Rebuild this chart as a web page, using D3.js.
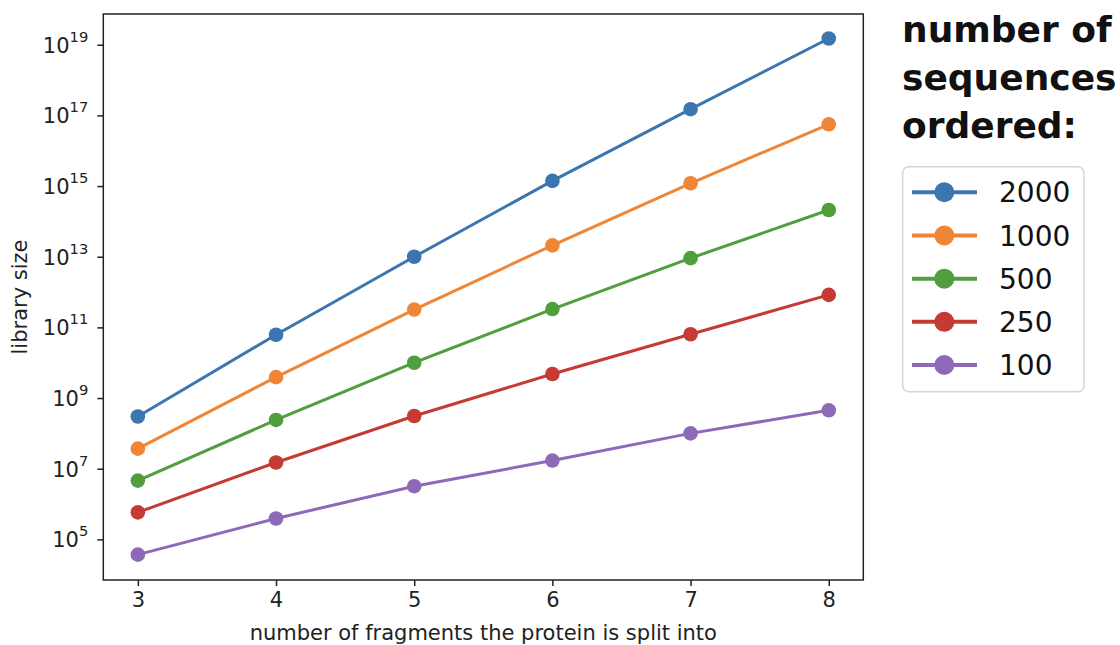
<!DOCTYPE html>
<html>
<head>
<meta charset="utf-8">
<script src="https://cdn.jsdelivr.net/npm/d3@7"></script>
<style>
  body { margin: 0; background: #fff; }
  svg { display: block; }
</style>
</head>
<body>
<div id="chart"></div>
<script>
// values (library size per number of fragments)
var fragments = [3, 4, 5, 6, 7, 8];
var seqs2000 = [3.0e8, 6.2e10, 1.0e13, 1.4e15, 1.5e17, 1.5e19];
var seqs1000 = [3.7e7, 3.9e9, 3.2e11, 2.1e13, 1.2e15, 5.6e16];
var seqs500 = [4.6e6, 2.4e8, 1.0e10, 3.3e11, 9.1e12, 2.1e14];
var seqs250 = [5.8e5, 1.5e7, 3.1e8, 4.8e9, 6.4e10, 8.3e11];
var seqs100 = [3.7e4, 3.9e5, 3.2e6, 1.7e7, 1.0e8, 4.5e8];
var seriesNames = ["2000", "1000", "500", "250", "100"];
var seriesValues = [seqs2000, seqs1000, seqs500, seqs250, seqs100];
var colors = ["#3b76af", "#ef8636", "#519e3e", "#c53a32", "#8d69b8"];
var yTickValues = [1e5, 1e7, 1e9, 1e11, 1e13, 1e15, 1e17, 1e19];

function init() {
    var w = 1120;
    var h = 645;
    var left = 103.3, right = 863.3, top = 14, bottom = 580;
    var fs = 21; // tick + axis label size

    var svg = d3.select("#chart")
                .append("svg")
                .attr("width", w)
                .attr("height", h);

    var x = d3.scaleLinear().domain([2.75, 8.25]).range([left, right]);
    var y = d3.scaleLog().domain([Math.pow(10, 3.85), Math.pow(10, 19.87)]).range([bottom, top]);

    // axes
    var xAxis = svg.append("g")
        .attr("transform", "translate(0," + bottom + ")")
        .call(d3.axisBottom(x).tickValues(fragments).tickSize(6).tickPadding(6).tickFormat(d3.format("d")));
    xAxis.select(".domain").remove();
    xAxis.selectAll("line").attr("stroke", "#222").attr("stroke-width", 1.5);
    xAxis.selectAll("text").attr("font-family", "DejaVu Sans").attr("font-size", fs).attr("fill", "#222");

    var yAxis = svg.append("g")
        .attr("transform", "translate(" + left + ",0)")
        .call(d3.axisLeft(y).tickValues(yTickValues).tickSize(6).tickPadding(9).tickFormat(function(){ return ""; }));
    yAxis.select(".domain").remove();
    yAxis.selectAll("line").attr("stroke", "#222").attr("stroke-width", 1.5);
    yAxis.selectAll("text")
        .attr("font-family", "DejaVu Sans")
        .attr("font-size", fs)
        .attr("fill", "#222")
        .attr("dy", "0.35em")
        .each(function(d) {
            var t = d3.select(this);
            t.append("tspan").text("10");
            t.append("tspan").attr("font-size", 14.7).attr("dy", "-0.75em").text(Math.round(Math.log10(d)));
        });

    // frame
    svg.append("rect")
        .attr("x", left).attr("y", top)
        .attr("width", right - left).attr("height", bottom - top)
        .attr("fill", "none").attr("stroke", "#222").attr("stroke-width", 1.5);

    // lines + markers
    var line = d3.line()
        .x(function(d, i){ return x(fragments[i]); })
        .y(function(d){ return y(d); });

    seriesValues.forEach(function(vals, s) {
        svg.append("path")
            .attr("d", line(vals))
            .attr("fill", "none")
            .attr("stroke", colors[s])
            .attr("stroke-width", 3);
        svg.selectAll(".dot" + s)
            .data(vals)
            .enter()
            .append("circle")
            .attr("cx", function(d, i){ return x(fragments[i]); })
            .attr("cy", function(d){ return y(d); })
            .attr("r", 7.3)
            .attr("fill", colors[s]);
    });

    // axis labels
    svg.append("text")
        .attr("x", (left + right) / 2)
        .attr("y", 640)
        .attr("text-anchor", "middle")
        .attr("font-family", "DejaVu Sans")
        .attr("font-size", fs)
        .attr("fill", "#222")
        .text("number of fragments the protein is split into");

    svg.append("text")
        .attr("transform", "translate(27," + ((top + bottom) / 2) + ") rotate(-90)")
        .attr("text-anchor", "middle")
        .attr("font-family", "DejaVu Sans")
        .attr("font-size", fs)
        .attr("fill", "#222")
        .text("library size");

    // legend title
    var title = ["number of", "sequences", "ordered:"];
    svg.selectAll(".ttl")
        .data(title)
        .enter()
        .append("text")
        .attr("x", 902)
        .attr("y", function(d, i){ return 41.7 + i * 48.3; })
        .attr("font-family", "DejaVu Sans")
        .attr("font-weight", "bold")
        .attr("font-size", 36)
        .attr("fill", "#111")
        .text(function(d){ return d; });

    // legend box
    var lg = svg.append("g");
    lg.append("rect")
        .attr("x", 902.7).attr("y", 166.7)
        .attr("width", 181.3).attr("height", 225)
        .attr("rx", 6)
        .attr("fill", "#fff")
        .attr("stroke", "#d5d5d5")
        .attr("stroke-width", 1.5);

    var rowY = d3.scaleLinear().domain([0, 4]).range([192.3, 365]);
    seriesNames.forEach(function(name, i) {
        lg.append("line")
            .attr("x1", 912).attr("x2", 977)
            .attr("y1", rowY(i)).attr("y2", rowY(i))
            .attr("stroke", colors[i]).attr("stroke-width", 4);
        lg.append("circle")
            .attr("cx", 944.3).attr("cy", rowY(i))
            .attr("r", 10)
            .attr("fill", colors[i]);
        lg.append("text")
            .attr("x", 999)
            .attr("y", rowY(i))
            .attr("dy", "0.36em")
            .attr("font-family", "DejaVu Sans")
            .attr("font-size", 28)
            .attr("fill", "#111")
            .text(name);
    });
}
window.onload = init;
</script>
</body>
</html>
